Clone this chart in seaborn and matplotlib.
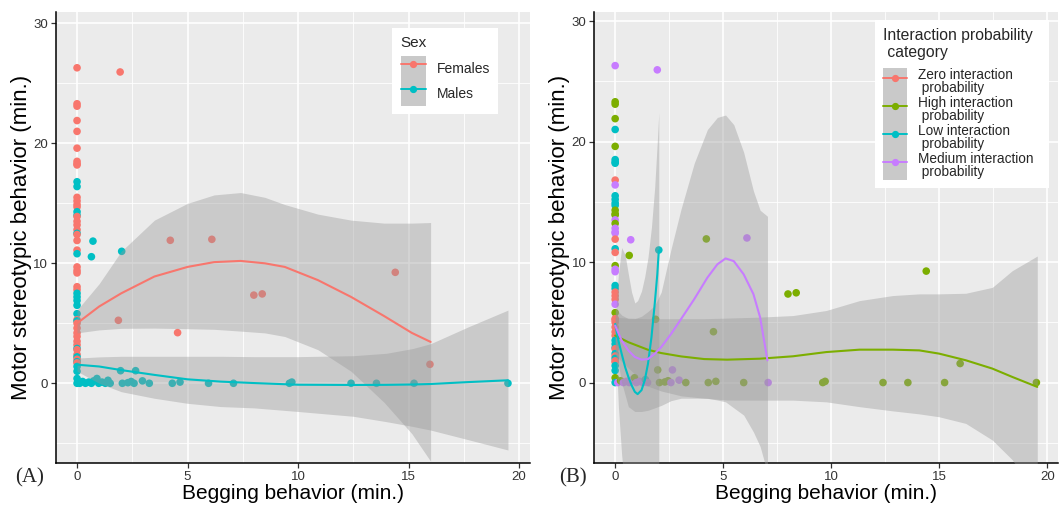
import numpy as np
import pandas as pd
import matplotlib
matplotlib.use("Agg")
import matplotlib.pyplot as plt
import seaborn as sns
from matplotlib.lines import Line2D
from matplotlib.patches import Rectangle
from matplotlib.ticker import MultipleLocator

# ---------------- data ----------------
# points with begging = 0 (stereotypic minutes, sex, interaction category)
zero_stereo = [26.3, 23.3, 23.1, 21.9, 21.0, 19.6, 18.5, 18.3, 18.2, 16.8, 16.4,
               15.5, 15.2, 14.9, 14.7, 14.3, 14.0, 13.9, 13.5, 13.2, 12.8, 12.5,
               12.4, 11.9, 11.1, 10.8, 9.7, 9.4, 9.2, 8.05, 7.8, 7.5, 7.2, 6.9,
               6.5, 5.8, 5.3, 5.2, 5.0, 4.6, 4.2, 3.9, 3.5, 3.2, 2.9, 2.8, 2.4,
               2.2, 2.0, 1.8, 1.7, 1.4, 1.0, 0.4, 0.0]
zero_sex = ["F", "F", "F", "F", "F", "F", "F", "F", "F", "M", "M",
            "F", "F", "F", "F", "M", "M", "F", "F", "F", "F", "M",
            "F", "F", "F", "M", "F", "F", "F", "F", "F", "M", "M", "M",
            "M", "M", "F", "M", "F", "F", "F", "F", "F", "F", "M", "F", "F",
            "M", "F", "M", "F", "M", "M", "M", "M"]
zero_cat = ["Med", "High", "High", "High", "Low", "High", "Low", "Low", "Low", "Zero", "Med",
            "Low", "Low", "Low", "Low", "High", "High", "High", "Med", "High", "Med", "Med",
            "Med", "Zero", "Low", "Zero", "High", "Med", "Med", "Low", "Low", "Zero", "Zero", "Zero",
            "Med", "High", "Zero", "Zero", "Zero", "Zero", "Zero", "Zero", "Low", "Low", "Low", "Zero", "Low",
            "Zero", "Low", "Zero", "Zero", "Low", "Low", "High", "Low"]

# points with begging > 0
beg_x = [1.95, 1.87, 4.22, 4.55, 6.10, 8.00, 8.38, 14.40, 15.97,
         0.65, 0.72, 2.02, 1.97, 2.65,
         0.12, 0.25, 0.38, 0.53, 0.65, 0.75, 0.90, 0.98, 1.13, 1.28, 1.40, 1.50,
         2.05, 2.30, 2.45, 2.58, 2.96, 3.27, 4.31, 4.66, 5.95, 7.08,
         9.61, 9.72, 12.40, 13.55, 15.25, 19.50]
beg_y = [25.95, 5.25, 11.92, 4.22, 12.00, 7.35, 7.45, 9.25, 1.58,
         10.55, 11.85, 11.00, 1.05, 1.05,
         0.0, 0.15, 0.0, 0.1, 0.0, 0.2, 0.4, 0.0, 0.1, 0.0, 0.25, 0.0,
         0.0, 0.05, 0.15, 0.0, 0.2, 0.0, 0.0, 0.1, 0.0, 0.0,
         0.0, 0.1, 0.0, 0.0, 0.0, 0.0]
beg_sex = ["F"] * 9 + ["M"] * 33
beg_cat = ["Med", "High", "High", "High", "Med", "High", "High", "High", "High",
           "High", "Med", "Low", "High", "Med",
           "Med", "High", "Med", "Med", "Med", "Med", "High", "Med", "Med", "Med", "Low", "Med",
           "High", "High", "High", "Med", "Med", "High", "High", "High", "High", "Med",
           "High", "High", "High", "High", "High", "High"]

sex_labels = {"F": "Females", "M": "Males"}
cat_labels = {"Zero": "Zero interaction\n probability",
              "High": "High interaction\n probability",
              "Low": "Low interaction\n probability",
              "Med": "Medium interaction\n probability"}
sex_order = ["F", "M"]
cat_order = ["Zero", "High", "Low", "Med"]
sex_colors = ["#F8766D", "#00BFC4"]
cat_colors = ["#F8766D", "#7CAE00", "#00BFC4", "#C77CFF"]

# smoothed fits (x, fit, lower, upper)
fem_x = [0, 1, 2, 3.5, 5, 6.2, 7.4, 8.5, 9.4, 10.9, 12.4, 13.9, 15.15, 16]
fem_fit = [5.0, 6.4, 7.5, 8.9, 9.7, 10.1, 10.2, 10.0, 9.7, 8.6, 7.2, 5.6, 4.2, 3.45]
fem_lo = [4.2, 4.45, 4.58, 4.6, 4.55, 4.5, 4.35, 4.2, 3.9, 2.8, 1.0, -1.6, -4.2, -6.5]
fem_hi = [6.1, 8.3, 11.0, 13.6, 15.0, 15.7, 15.9, 15.5, 14.9, 14.1, 13.6, 13.35, 13.35, 13.4]

mal_x = [0, 1, 2, 3.5, 5, 6.5, 8, 10, 12.5, 14, 15.2, 16, 17.7, 19.5]
mal_fit = [1.55, 1.4, 1.1, 0.7, 0.33, 0.14, 0.02, -0.12, -0.14, -0.13, -0.1, -0.06, 0.1, 0.25]
mal_lo = [1.0, 0.0, -0.7, -1.25, -1.67, -1.94, -2.05, -2.35, -2.75, -3.2, -3.6, -3.9, -4.7, -5.56]
mal_hi = [2.1, 2.2, 2.25, 2.25, 2.25, 2.25, 2.22, 2.22, 2.3, 2.5, 2.9, 3.3, 4.7, 6.1]

high_x = [0, 0.61, 1.52, 2.13, 3.05, 4.12, 5.18, 6.69, 8.23, 9.77, 11.31, 12.85, 14.08, 15,
          16.23, 17.46, 18.38, 19.54]
high_fit = [3.9, 3.35, 2.72, 2.45, 2.17, 1.95, 1.9, 1.98, 2.18, 2.53, 2.73, 2.73, 2.67, 2.4,
            1.85, 1.16, 0.47, -0.36]
high_lo = [2.3, 1.2, -0.3, -0.7, -1.1, -1.3, -1.45, -1.46, -1.46, -1.6, -2.0, -2.35, -2.6, -2.84,
           -3.39, -4.77, -6.4, -9.5]
high_hi = [5.4, 5.35, 5.3, 5.3, 5.3, 5.3, 5.35, 5.43, 5.56, 5.98, 6.8, 7.22, 7.36, 7.36,
           7.41, 7.9, 9.28, 10.5]

low_x = [0, 0.15, 0.3, 0.46, 0.61, 0.76, 0.91, 1.04, 1.22, 1.37, 1.52, 1.68, 1.83, 1.95, 2.02]
low_fit = [4.86, 3.49, 2.39, 1.29, 0.47, -0.22, -0.77, -0.96, -0.63, 0.19, 1.57, 3.76, 6.51,
           8.98, 10.96]
low_lo = [4.0, -2.0, -6.0, -9.0, -10.5, -11.0, -11.0, -11.0, -10.5, -10.0, -9.5, -9.0, -8.5,
          -8.0, -7.5]
low_hi = [5.2, 9.0, 11.2, 10.6, 9.0, 7.5, 6.6, 6.8, 7.6, 8.8, 10.4, 12.9, 16.2, 20.0, 22.4]

med_x = [0, 0.3, 0.61, 0.91, 1.22, 1.52, 1.83, 2.13, 2.59, 3.05, 3.66, 4.27, 4.73, 5.11, 5.49,
         5.95, 6.4, 6.71, 7.05]
med_fit = [4.73, 3.49, 2.66, 2.12, 1.9, 1.95, 2.39, 2.94, 4.04, 5.27, 6.92, 8.71, 9.81, 10.3,
           10.08, 8.98, 7.34, 5.41, 1.84]
med_lo = [3.0, 0.0, -2.0, -2.4, -2.4, -2.3, -2.1, -1.9, -1.5, -1.3, -1.3, -1.3, -1.45, -1.6,
          -2.1, -2.7, -4.1, -5.3, -7.5]
med_hi = [6.2, 5.6, 5.3, 5.3, 5.5, 5.9, 6.4, 7.5, 11.1, 14.4, 18.2, 21.0, 22.0, 22.2, 21.4,
          19.1, 15.9, 14.3, 13.8]

x_label = "Begging behavior (min.)"
y_label = "Motor stereotypic behavior (min.)"

# ---------------- frame ----------------
df = pd.DataFrame({
    "beg": [0.0] * len(zero_stereo) + beg_x,
    "stereo": zero_stereo + beg_y,
    "sex": zero_sex + beg_sex,
    "cat": zero_cat + beg_cat,
})

sns.set_theme(style="darkgrid")
plt.rcParams["font.family"] = ["Liberation Sans", "DejaVu Sans"]

fig = plt.figure(figsize=(10.62, 5.14), dpi=100)
axA = fig.add_axes([55.5 / 1062, 50.7 / 514, 474 / 1062, 451.3 / 514])
axB = fig.add_axes([594 / 1062, 50.7 / 514, 464 / 1062, 451.3 / 514])

BAND = "#999999"
HLEN = 1.8


def style_axis(ax, xlim, ylim):
    ax.set_facecolor("#EBEBEB")
    ax.set_xlim(*xlim)
    ax.set_ylim(*ylim)
    ax.xaxis.set_major_locator(MultipleLocator(5))
    ax.xaxis.set_minor_locator(MultipleLocator(2.5))
    ax.yaxis.set_major_locator(MultipleLocator(10))
    ax.yaxis.set_minor_locator(MultipleLocator(5))
    ax.grid(which="major", color="white", lw=1.2)
    ax.grid(which="minor", color="white", lw=0.6)
    ax.set_axisbelow(True)
    for s in ["top", "right"]:
        ax.spines[s].set_visible(False)
    for s in ["left", "bottom"]:
        ax.spines[s].set_visible(True)
        ax.spines[s].set_color("black")
        ax.spines[s].set_linewidth(1.1)
    ax.tick_params(which="major", bottom=True, left=True, length=3.5, width=0.9,
                   color="#333333", labelsize=9.5, labelcolor="#333333", pad=2)
    ax.tick_params(which="minor", length=0)


def add_legend(ax, labels, colors, title, anchor, hh, fs, tfs, ls, tls, sep):
    handles = [Line2D([], [], color=c, lw=1.4, marker="o", ms=4.2) for c in colors]
    leg = ax.legend(handles, labels, title=title, loc="upper right", bbox_to_anchor=anchor,
                    borderaxespad=0, frameon=False,
                    handlelength=HLEN, handleheight=hh, labelspacing=0, handletextpad=0.8,
                    fontsize=fs, title_fontsize=tfs, borderpad=0.6)
    leg._legend_box.align = "left"
    leg._legend_box.sep = sep
    leg.set_zorder(10)
    for t in leg.get_texts():
        t.set_linespacing(ls)
    leg.get_title().set_linespacing(tls)
    return leg, fs


def decorate_legend(ax, leg, fs, extra_right=0.0):
    renderer = fig.canvas.get_renderer()
    inv = fig.transFigure.inverted()
    bb = leg.get_window_extent(renderer)
    (x0, y0), (x1, y1) = inv.transform([[bb.x0, bb.y0], [bb.x1 + extra_right, bb.y1]])
    ax.add_patch(Rectangle((x0, y0), x1 - x0, y1 - y0, transform=fig.transFigure,
                           facecolor="white", edgecolor="none", zorder=8, clip_on=False))
    hb = leg._legend_handle_box.get_window_extent(renderer)
    w = HLEN * fs * fig.dpi / 72.0
    (hx0, hy0), (hx1, hy1) = inv.transform([[hb.x0, hb.y0], [hb.x0 + w, hb.y1]])
    ax.add_patch(Rectangle((hx0, hy0), hx1 - hx0, hy1 - hy0, transform=fig.transFigure,
                           facecolor="#C9C9C9", edgecolor="none", zorder=9, clip_on=False))


# ---------------- panel A ----------------
style_axis(axA, (-0.975, 20.475), (-6.67, 30.95))
sns.scatterplot(data=df, x="beg", y="stereo", hue="sex", hue_order=sex_order,
                palette=sex_colors, s=30, linewidth=0, ax=axA, legend=False, zorder=3)
for xs, fit, lo, hi, col in [(fem_x, fem_fit, fem_lo, fem_hi, sex_colors[0]),
                             (mal_x, mal_fit, mal_lo, mal_hi, sex_colors[1])]:
    axA.fill_between(xs, lo, hi, color=BAND, alpha=0.4, lw=0, zorder=4)
    sns.lineplot(x=xs, y=fit, color=col, lw=1.5, ax=axA, sort=False, estimator=None, zorder=5)
axA.set_xlabel(x_label, fontsize=15, labelpad=1, color="black")
axA.set_ylabel(y_label, fontsize=16, labelpad=1, color="black")
legA = add_legend(axA, [sex_labels[k] for k in sex_order], sex_colors, "Sex",
                  (0.9345, 0.9645), 2.4, 10, 11, 1.0, 1.0, 4)

# ---------------- panel B ----------------
style_axis(axB, (-0.98, 20.5), (-6.7, 30.75))
sns.scatterplot(data=df, x="beg", y="stereo", hue="cat", hue_order=cat_order,
                palette=cat_colors, s=30, linewidth=0, ax=axB, legend=False, zorder=3)
for xs, fit, lo, hi, col in [(high_x, high_fit, high_lo, high_hi, cat_colors[1]),
                             (low_x, low_fit, low_lo, low_hi, cat_colors[2]),
                             (med_x, med_fit, med_lo, med_hi, cat_colors[3])]:
    axB.fill_between(xs, lo, hi, color=BAND, alpha=0.4, lw=0, zorder=4)
    sns.lineplot(x=xs, y=fit, color=col, lw=1.5, ax=axB, sort=False, estimator=None, zorder=5)
axB.set_xlabel(x_label, fontsize=15, labelpad=1, color="black")
axB.set_ylabel(y_label, fontsize=16, labelpad=1, color="black")
legB = add_legend(axB, [cat_labels[k] for k in cat_order], cat_colors,
                  "Interaction probability\n category", (0.9655, 0.9823), 2.6, 9.8, 11.3,
                  0.9, 1.12, 6)

fig.text(30 / 1062, 1 - 478 / 514, "(A)", family="Liberation Serif", fontsize=15,
         ha="center", va="center")
fig.text(573 / 1062, 1 - 478 / 514, "(B)", family="Liberation Serif", fontsize=15,
         ha="center", va="center")

fig.canvas.draw()
decorate_legend(axA, *legA)
decorate_legend(axB, *legB, extra_right=7)
axA.set_xlim(-0.975, 20.475)
axA.set_ylim(-6.67, 30.95)
axB.set_xlim(-0.98, 20.5)
axB.set_ylim(-6.7, 30.75)

fig.savefig("out.png", dpi=100, facecolor="white")
